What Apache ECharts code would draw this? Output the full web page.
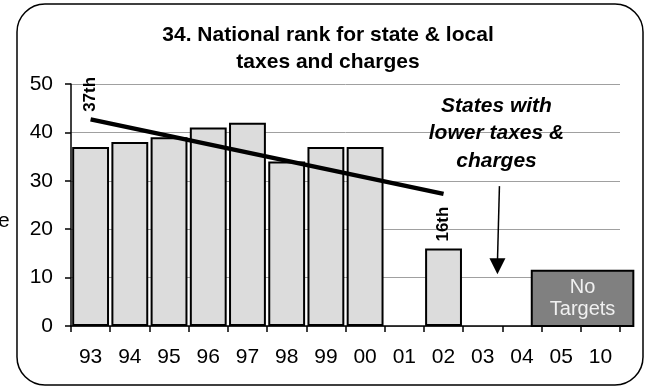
<!DOCTYPE html>
<html><head><meta charset="utf-8">
<script src="https://cdn.jsdelivr.net/npm/echarts@6/dist/echarts.min.js"></script>
<style>html,body{margin:0;padding:0;background:#fff}#c{width:656px;height:388px}</style>
</head><body><div id="c"></div>
<script>
const categories = ['93','94','95','96','97','98','99','00','01','02','03','04','05','10'];
const rankValues = [37,38,39,41,42,34,37,37,null,16,null,null,null,null];
const trendValues = [42.7,null,null,null,null,null,null,null,null,27.3,null,null,null,null];
const barLabelText = {9:'16th'};
const trendLabelText = {0:'37th'};
const noTargetsTop = 11.4;
const yMin = 0, yMax = 50, yInterval = 10;
const titleText = '34. National rank for state & local\ntaxes and charges';
const noteText = 'States with\nlower taxes &\ncharges';
const boxText = 'No\nTargets';

const FONT = '"Liberation Sans", Arial, sans-serif';
const chart = echarts.init(document.getElementById('c'), null, {renderer:'canvas'});

const rotLabel = {show:false, position:'top', rotate:90, align:'left', verticalAlign:'middle', distance:7,
  fontFamily:FONT, fontWeight:'bold', fontSize:17, color:'#000'};

const barData = rankValues.map((v,i)=> barLabelText[i] ? {value:v, label:{show:true, formatter:barLabelText[i]}} : v);
const trendMarks = Object.keys(trendLabelText).map(k=>({coord:[Number(k), trendValues[k]], value:trendLabelText[k]}));

chart.setOption({
  animation:false,
  backgroundColor:'#fff',
  title:{text:titleText, left:'center', top:17,
    textStyle:{fontFamily:FONT, fontWeight:'bold', fontSize:21, lineHeight:27, color:'#000'}},
  grid:{left:71, right:36, top:84, bottom:62, containLabel:false},
  xAxis:{type:'category', data:categories,
    axisLine:{lineStyle:{color:'#000', width:1.5}},
    axisTick:{show:true, length:6, lineStyle:{color:'#000', width:1.5}},
    axisLabel:{fontFamily:FONT, fontSize:21, color:'#000', margin:21},
    splitLine:{show:false}},
  yAxis:{type:'value', min:yMin, max:yMax, interval:yInterval,
    axisLine:{show:true, lineStyle:{color:'#000', width:1.5}},
    axisTick:{show:true, length:6, lineStyle:{color:'#000', width:1.5}},
    axisLabel:{fontFamily:FONT, fontSize:21, color:'#000', margin:18},
    splitLine:{lineStyle:{color:'#a0a0a0', width:1}}},
  series:[
    {type:'bar', data:barData, barCategoryGap:'6%',
      itemStyle:{color:'#dcdcdc', borderColor:'#000', borderWidth:2},
      label:rotLabel},
    {type:'line', data:trendValues, connectNulls:true, showSymbol:false, symbol:'none',
      lineStyle:{color:'#000', width:4.5}, z:5,
      markPoint:{symbol:'circle', symbolSize:1, itemStyle:{color:'rgba(0,0,0,0)'},
        label:Object.assign({}, rotLabel, {show:true, formatter:'{c}'}),
        data:trendMarks}}
  ]
});

function px(ci, v){ return chart.convertToPixel({gridIndex:0}, [ci, v]); }
const c04 = px(11, 0), c05 = px(12,0), c10 = px(13, 0), c03 = px(10,0);
const catW = c05[0]-c04[0];
const boxL = c04[0] + 0.25*catW, boxR = c10[0] + 0.84*catW;
const boxT = px(12, noTargetsTop)[1], boxB = c04[1];
const arrowX = c03[0] + 0.4*catW;
const arrowTop = px(10, 28.9)[1], arrowTip = px(10, 10.7)[1];
const noteX = c03[0] + 0.35*catW, noteY = px(10, 48.3)[1];

chart.setOption({graphic:[
  {type:'rect', silent:true, z:0, shape:{x:17, y:4, width:626, height:381, r:28},
    style:{fill:null, stroke:'#000', lineWidth:1.5}},
  {type:'text', silent:true, x:-2, y:211, style:{text:'e', font:'21px '+FONT, fill:'#000'}},
  {type:'rect', z:10, shape:{x:boxL, y:boxT, width:boxR-boxL, height:boxB-boxT},
    style:{fill:'#808080', stroke:'#000', lineWidth:2}},
  {type:'text', z:11, x:(boxL+boxR)/2, y:(boxT+boxB)/2, style:{text:boxText, font:'20px '+FONT, fill:'#f0f0f0',
    align:'center', verticalAlign:'middle', lineHeight:22}},
  {type:'text', z:11, x:noteX, y:noteY, style:{text:noteText, font:'italic bold 21px '+FONT, fill:'#000',
    align:'center', verticalAlign:'top', lineHeight:27.5}},
  {type:'line', z:11, shape:{x1:arrowX+1, y1:arrowTop, x2:arrowX-1, y2:arrowTip-12}, style:{stroke:'#000', lineWidth:1.5}},
  {type:'polygon', z:11, shape:{points:[[arrowX-9, arrowTip-16],[arrowX+7, arrowTip-16],[arrowX-1, arrowTip]]}, style:{fill:'#000'}}
]});
</script></body></html>
